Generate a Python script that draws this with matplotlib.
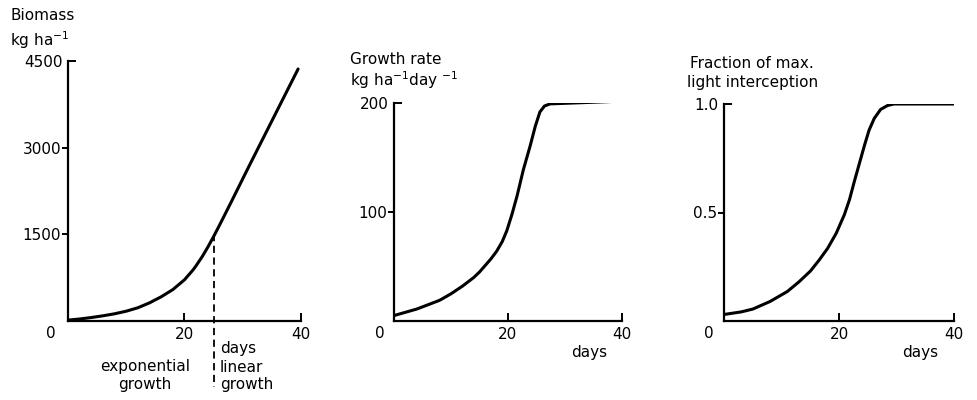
import numpy as np
import matplotlib
matplotlib.use('Agg')
import matplotlib.pyplot as plt

plt.rcParams['font.family'] = ['DejaVu Sans']
plt.rcParams['font.size'] = 11

# values
bio_days = [0, 2, 4, 6, 8, 10, 12, 14, 16, 18, 20, 21.5, 22, 23, 24, 25, 26, 28, 31, 35, 39.5]
biomass = [15, 35, 60, 90, 125, 170, 230, 315, 420, 545, 715, 890, 960, 1110, 1280, 1465,
		   1660, 2060, 2670, 3470, 4370]

rate_days = [0, 2, 4, 6, 8, 10, 12, 14, 15, 16, 17, 18, 19, 19.8, 20.7, 21.6, 22.7, 23.9,
			 24.8, 25.6, 26.4, 27.4, 30, 35, 39.8]
growth_rate = [5, 8, 11, 15, 19, 25, 32, 40, 45, 51, 57, 64, 73, 83, 98, 115, 139, 161,
			   179, 192, 197.5, 199.5, 200, 201, 202]

li_days = [0, 3, 5, 8, 11, 13, 15, 16.5, 18, 19.5, 20.9, 21.8, 22.6, 23.5, 24.4, 25.2,
		   26.1, 27.2, 28.4, 29.5, 40]
light_frac = [0.03, 0.042, 0.055, 0.09, 0.136, 0.18, 0.23, 0.28, 0.335, 0.405, 0.49, 0.56,
			  0.64, 0.725, 0.81, 0.88, 0.934, 0.975, 0.993, 1.0, 1.0]

x_ticks = [20, 40]
bio_ticks, bio_top = [1500, 3000], 4500
rate_ticks, rate_top = [100], 200
li_ticks, li_top = [0.5], 1.0
li_labels = ['0.5']
li_top_label = '1.0'
linear_start = 25

fig = plt.figure(figsize=(9.78, 4.0), dpi=100)
ax1 = fig.add_axes([0.0695, 0.1975, 0.2383, 0.6488])
ax2 = fig.add_axes([0.4029, 0.1975, 0.2330, 0.5442])
ax3 = fig.add_axes([0.7403, 0.1975, 0.2355, 0.5425])


def style(ax, ymajor, ytop, ymaj_labels=None, ytop_label=None, zero_dx=-12):
	ax.set_xlim(0, 40)
	ax.set_ylim(0, ytop)
	for s in ['top', 'right']:
		ax.spines[s].set_visible(False)
	for s in ['left', 'bottom']:
		ax.spines[s].set_linewidth(1.6)
	ax.set_xticks(x_ticks)
	ax.tick_params(axis='x', direction='in', length=6, width=1.4, pad=4, labelsize=11)
	ax.set_yticks(ymajor)
	if ymaj_labels is not None:
		ax.set_yticklabels(ymaj_labels)
	ax.tick_params(axis='y', which='major', direction='out', length=4, width=1.4, pad=1, labelsize=11)
	# top tick points inward
	ax.set_yticks([ytop], minor=True)
	ax.set_yticklabels([ytop_label if ytop_label else str(ytop)], minor=True)
	ax.tick_params(axis='y', which='minor', direction='in', length=6, width=1.4, pad=4, labelsize=11)
	ax.annotate('0', xy=(0, 0), xytext=(zero_dx, -9), textcoords='offset points',
				ha='center', va='center', fontsize=11, annotation_clip=False)


ax1.plot(bio_days, biomass, color='black', lw=2.2, solid_capstyle='round', solid_joinstyle='round')
style(ax1, bio_ticks, bio_top, zero_dx=-12)
ax1.plot([linear_start, linear_start], [1500, -1150], color='black', lw=1.3,
		 ls=(0, (4, 2.5)), clip_on=False)
fig.text(10 / 978, 1 - 15 / 400, 'Biomass', ha='left', va='center', fontsize=11)
fig.text(10 / 978, 1 - 40 / 400, 'kg ha$^{-1}$', ha='left', va='center', fontsize=11)
fig.text(220 / 978, 1 - 348 / 400, 'days', ha='left', va='center', fontsize=11)
fig.text(220 / 978, 1 - 367 / 400, 'linear', ha='left', va='center', fontsize=11)
fig.text(220 / 978, 1 - 384 / 400, 'growth', ha='left', va='center', fontsize=11)
fig.text(145 / 978, 1 - 367 / 400, 'exponential', ha='center', va='center', fontsize=11)
fig.text(145 / 978, 1 - 384 / 400, 'growth', ha='center', va='center', fontsize=11)

ax2.plot(rate_days, growth_rate, color='black', lw=2.2, solid_capstyle='round', solid_joinstyle='round')
style(ax2, rate_ticks, rate_top, zero_dx=-10)
fig.text(350 / 978, 1 - 60 / 400, 'Growth rate', ha='left', va='center', fontsize=11)
fig.text(350 / 978, 1 - 80 / 400, 'kg ha$^{-1}$day $^{-1}$', ha='left', va='center', fontsize=11)
fig.text(607 / 978, 1 - 352 / 400, 'days', ha='right', va='center', fontsize=11)

ax3.plot(li_days, light_frac, color='black', lw=2.2, solid_capstyle='round', solid_joinstyle='round')
style(ax3, li_ticks, li_top, li_labels, li_top_label, zero_dx=-11)
fig.text(690 / 978, 1 - 63 / 400, 'Fraction of max.', ha='left', va='center', fontsize=11)
fig.text(687 / 978, 1 - 82 / 400, 'light interception', ha='left', va='center', fontsize=11)
fig.text(938 / 978, 1 - 352 / 400, 'days', ha='right', va='center', fontsize=11)

plt.savefig('out.png', dpi=100)
